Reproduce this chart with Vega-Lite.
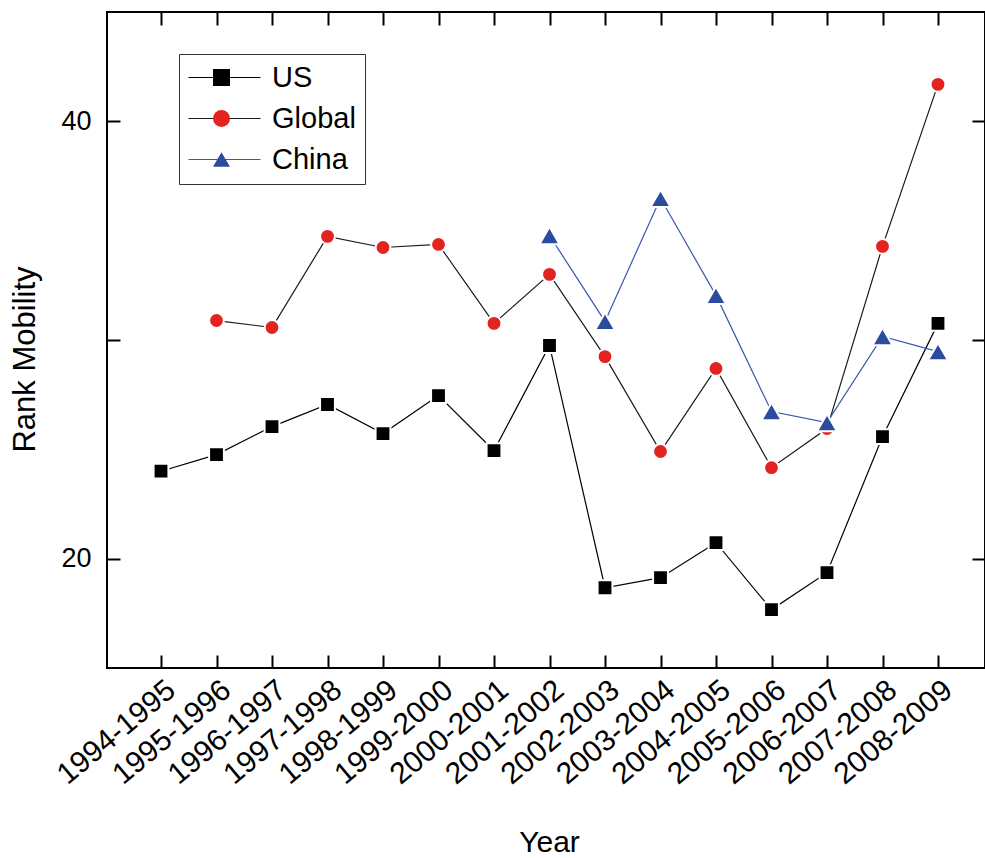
{
  "$schema": "https://vega.github.io/schema/vega-lite/v6.json",
  "width": 878,
  "height": 656,
  "autosize": {"type": "none"},
  "padding": {"left": 107, "top": 12, "right": 0, "bottom": 190},
  "background": "white",
  "config": {
    "font": "Liberation Sans",
    "view": {"stroke": "black", "strokeWidth": 2},
    "axis": {"domain": false, "grid": false, "tickColor": "black", "tickWidth": 2, "labelColor": "black", "titleColor": "black", "titleFontWeight": "normal", "labelFont": "Liberation Sans", "titleFont": "Liberation Sans"}
  },
  "data": {
    "values": [
      {"period": "1994-1995", "series": "US", "value": 24.0},
      {"period": "1995-1996", "series": "US", "value": 24.76},
      {"period": "1996-1997", "series": "US", "value": 26.04},
      {"period": "1997-1998", "series": "US", "value": 27.05},
      {"period": "1998-1999", "series": "US", "value": 25.72},
      {"period": "1999-2000", "series": "US", "value": 27.46},
      {"period": "2000-2001", "series": "US", "value": 24.94},
      {"period": "2001-2002", "series": "US", "value": 29.75},
      {"period": "2002-2003", "series": "US", "value": 18.67},
      {"period": "2003-2004", "series": "US", "value": 19.13},
      {"period": "2004-2005", "series": "US", "value": 20.73},
      {"period": "2005-2006", "series": "US", "value": 17.67},
      {"period": "2006-2007", "series": "US", "value": 19.36},
      {"period": "2007-2008", "series": "US", "value": 25.58},
      {"period": "2008-2009", "series": "US", "value": 30.76},
      {"period": "1995-1996", "series": "Global", "value": 30.89},
      {"period": "1996-1997", "series": "Global", "value": 30.57},
      {"period": "1997-1998", "series": "Global", "value": 34.74},
      {"period": "1998-1999", "series": "Global", "value": 34.23},
      {"period": "1999-2000", "series": "Global", "value": 34.37},
      {"period": "2000-2001", "series": "Global", "value": 30.76},
      {"period": "2001-2002", "series": "Global", "value": 33.0},
      {"period": "2002-2003", "series": "Global", "value": 29.24},
      {"period": "2003-2004", "series": "Global", "value": 24.9},
      {"period": "2004-2005", "series": "Global", "value": 28.7},
      {"period": "2005-2006", "series": "Global", "value": 24.16},
      {"period": "2006-2007", "series": "Global", "value": 25.95},
      {"period": "2007-2008", "series": "Global", "value": 34.28},
      {"period": "2008-2009", "series": "Global", "value": 41.69},
      {"period": "2001-2002", "series": "China", "value": 34.78},
      {"period": "2002-2003", "series": "China", "value": 30.85},
      {"period": "2003-2004", "series": "China", "value": 36.48},
      {"period": "2004-2005", "series": "China", "value": 32.04},
      {"period": "2005-2006", "series": "China", "value": 26.73},
      {"period": "2006-2007", "series": "China", "value": 26.22},
      {"period": "2007-2008", "series": "China", "value": 30.16},
      {"period": "2008-2009", "series": "China", "value": 29.47}
    ]
  },
  "layer": [
    {
      "mark": {"type": "line", "strokeWidth": 1.2},
      "encoding": {
        "x": {
          "field": "period", "type": "ordinal",
          "scale": {"type": "point", "range": [54, 831], "padding": 0},
          "axis": {"orient": "bottom", "title": "Year", "titleFontSize": 30, "titleX": 442, "titleY": 183, "titleAlign": "center", "titleBaseline": "alphabetic",
                   "labelAngle": -40, "labelAlign": "right", "labelBaseline": "middle", "labelFontSize": 30, "labelOffset": 10, "labelPadding": 31, "tickSize": -13, "labelOverlap": false}
        },
        "y": {
          "field": "value", "type": "quantitative",
          "scale": {"domain": [15, 45], "nice": false, "zero": false},
          "axis": {"orient": "left", "title": "Rank Mobility", "titleFontSize": 31, "titleAngle": -90, "titleX": -73, "titleY": 347, "titleAlign": "center", "titleBaseline": "alphabetic",
                   "values": [20, 30, 40], "labelExpr": "datum.value == 30 ? '' : datum.label", "labelFontSize": 27, "labelPadding": 29, "tickSize": -13}
        },
        "detail": {"field": "series"},
        "stroke": {
          "field": "series", "type": "nominal", "sort": ["US", "Global", "China"],
          "scale": {"range": ["#000000", "#1a1a1a", "#3a56b0"]},
          "legend": {"title": null, "orient": "none", "legendX": 72, "legendY": 42, "symbolType": "M-1.75,0H7.25", "symbolSize": 256, "symbolStrokeWidth": 1.2,
                     "labelFontSize": 29, "labelColor": "black", "labelOffset": 55, "rowPadding": 11, "padding": 9, "strokeColor": "#333333", "fillColor": "white"}
        }
      }
    },
    {
      "mark": {"type": "point", "filled": true, "opacity": 1, "stroke": "white", "strokeWidth": 2},
      "encoding": {
        "x": {
          "field": "period", "type": "ordinal",
          "axis": {"orient": "top", "title": null, "labels": false, "tickSize": -13}
        },
        "y": {
          "field": "value", "type": "quantitative",
          "axis": {"orient": "right", "title": null, "labels": false, "values": [20, 30, 40], "tickSize": -13}
        },
        "fill": {
          "field": "series", "type": "nominal",
          "scale": {"domain": ["US", "Global", "China"], "range": ["#000000", "#e3231f", "#2b4c9e"]},
          "legend": {"title": null, "orient": "none", "legendX": 91, "legendY": 42, "symbolSize": 290, "symbolStrokeColor": "white", "symbolStrokeWidth": 2,
                     "labelFontSize": 29, "labelExpr": "''", "labelOffset": 10, "rowPadding": 11, "padding": 9, "strokeColor": null, "fillColor": null}
        },
        "shape": {
          "field": "series", "type": "nominal",
          "scale": {"domain": ["US", "Global", "China"], "range": ["square", "circle", "triangle-up"]},
          "legend": {"title": null, "orient": "none", "legendX": 91, "legendY": 42, "symbolSize": 290, "symbolStrokeColor": "white", "symbolStrokeWidth": 2,
                     "labelFontSize": 29, "labelExpr": "''", "labelOffset": 10, "rowPadding": 11, "padding": 9, "strokeColor": null, "fillColor": null}
        },
        "size": {"condition": {"test": "datum.series === 'China'", "value": 400}, "value": 220}
      }
    }
  ]
}
